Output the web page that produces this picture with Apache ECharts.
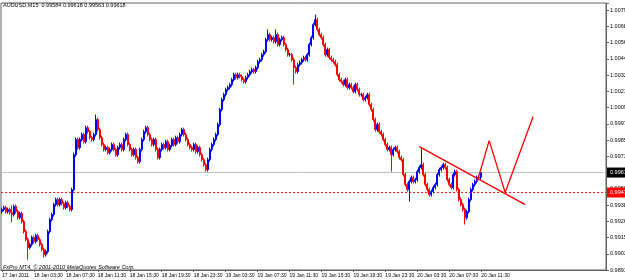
<!DOCTYPE html>
<html><head><meta charset="utf-8">
<script src="https://cdn.jsdelivr.net/npm/echarts@6/dist/echarts.min.js"></script>
<style>html,body{margin:0;padding:0;background:#fff}#c{width:625px;height:280px}</style>
</head><body><div id="c"></div>
<script>
const headerText = 'AUDUSD,M15  0.99584 0.99618 0.99563 0.99618';
const copyrightText = 'FxPro MT4, \u00a9 2001-2010 MetaQuotes Software Corp.';
const timeLabels = ['17 Jan 2011','18 Jan 03:30','18 Jan 07:30','18 Jan 11:30','18 Jan 15:30','18 Jan 19:30','18 Jan 23:30','19 Jan 03:30','19 Jan 07:30','19 Jan 11:30','19 Jan 15:30','19 Jan 19:30','19 Jan 23:30','20 Jan 03:30','20 Jan 07:30','20 Jan 11:30'];
const barsPerLabel = 16;
const slotCount = 303;
const priceTickLabels = ['0.98915','0.99030','0.99150','0.99265','0.99380','0.99500','0.99620','0.99735','0.99855','0.99975','1.00090','1.00210','1.00325','1.00445','1.00560','1.00680','1.00790'];
const yMin = 0.98915, yStep = 0.00117198, yMax = 1.00841;

const opens = [
0.99336,0.99351,0.99365,0.99336,0.99351, 0.99329,0.99315,0.99373,0.99336,0.99293,
0.99322,0.99264,0.99192,0.99135,0.99077, 0.99099,0.99149,0.99120,0.99163,0.99135,
0.99099,0.99063,0.99026,0.99048,0.99192, 0.99279,0.99315,0.99387,0.99423,0.99387,
0.99423,0.99394,0.99365,0.99401,0.99373, 0.99351,0.99495,0.99747,0.99856,0.99798,
0.99856,0.99892,0.99841,0.99942,0.99913, 0.99870,0.99856,0.99892,1.00000,0.99928,
0.99870,0.99820,0.99784,0.99798,0.99762, 0.99784,0.99820,0.99784,0.99747,0.99798,
0.99820,0.99784,0.99856,0.99892,0.99820, 0.99784,0.99747,0.99784,0.99726,0.99697,
0.99784,0.99856,0.99913,0.99942,0.99892, 0.99856,0.99820,0.99856,0.99784,0.99726,
0.99784,0.99820,0.99798,0.99841,0.99784, 0.99813,0.99856,0.99820,0.99870,0.99841,
0.99892,0.99928,0.99892,0.99856,0.99820, 0.99798,0.99784,0.99820,0.99769,0.99798,
0.99747,0.99711,0.99675,0.99639,0.99711, 0.99784,0.99820,0.99856,0.99892,0.99964,
1.00072,1.00144,1.00180,1.00216,1.00231, 1.00252,1.00288,1.00324,1.00303,1.00324,
1.00310,1.00288,1.00274,1.00303,1.00324, 1.00346,1.00360,1.00346,1.00375,1.00418,
1.00432,1.00468,1.00490,1.00577,1.00613, 1.00577,1.00591,1.00562,1.00613,1.00541,
1.00577,1.00591,1.00541,1.00505,1.00468, 1.00468,1.00432,1.00375,1.00346,1.00396,
1.00411,1.00432,1.00447,1.00432,1.00468, 1.00541,1.00591,1.00685,1.00721,1.00649,
1.00613,1.00591,1.00541,1.00468,1.00505, 1.00447,1.00432,1.00418,1.00396,1.00324,
1.00288,1.00274,1.00252,1.00288,1.00231, 1.00252,1.00231,1.00202,1.00252,1.00216,
1.00180,1.00180,1.00144,1.00158,1.00180, 1.00108,1.00072,1.00000,0.99928,0.99964,
0.99913,0.99892,0.99856,0.99820,0.99784, 0.99798,0.99747,0.99784,0.99798,0.99769,
0.99726,0.99711,0.99603,0.99531,0.99495, 0.99553,0.99582,0.99553,0.99567,0.99625,
0.99654,0.99675,0.99603,0.99531,0.99495, 0.99459,0.99481,0.99510,0.99531,0.99603,
0.99639,0.99654,0.99675,0.99654,0.99567, 0.99531,0.99510,0.99603,0.99625,0.99495,
0.99423,0.99387,0.99351,0.99293,0.99336, 0.99423,0.99495,0.99531,0.99553,0.99582,
0.99584];
const closes = [
0.99351,0.99365,0.99336,0.99351,0.99329, 0.99315,0.99373,0.99336,0.99293,0.99322,
0.99264,0.99192,0.99135,0.99077,0.99099, 0.99149,0.99120,0.99163,0.99135,0.99099,
0.99063,0.99026,0.99048,0.99192,0.99279, 0.99315,0.99387,0.99423,0.99387,0.99423,
0.99394,0.99365,0.99401,0.99373,0.99351, 0.99495,0.99747,0.99856,0.99798,0.99856,
0.99892,0.99841,0.99942,0.99913,0.99870, 0.99856,0.99892,1.00000,0.99928,0.99870,
0.99820,0.99784,0.99798,0.99762,0.99784, 0.99820,0.99784,0.99747,0.99798,0.99820,
0.99784,0.99856,0.99892,0.99820,0.99784, 0.99747,0.99784,0.99726,0.99697,0.99784,
0.99856,0.99913,0.99942,0.99892,0.99856, 0.99820,0.99856,0.99784,0.99726,0.99784,
0.99820,0.99798,0.99841,0.99784,0.99813, 0.99856,0.99820,0.99870,0.99841,0.99892,
0.99928,0.99892,0.99856,0.99820,0.99798, 0.99784,0.99820,0.99769,0.99798,0.99747,
0.99711,0.99675,0.99639,0.99711,0.99784, 0.99820,0.99856,0.99892,0.99964,1.00072,
1.00144,1.00180,1.00216,1.00231,1.00252, 1.00288,1.00324,1.00303,1.00324,1.00310,
1.00288,1.00274,1.00303,1.00324,1.00346, 1.00360,1.00346,1.00375,1.00418,1.00432,
1.00468,1.00490,1.00577,1.00613,1.00577, 1.00591,1.00562,1.00613,1.00541,1.00577,
1.00591,1.00541,1.00505,1.00468,1.00468, 1.00432,1.00375,1.00346,1.00396,1.00411,
1.00432,1.00447,1.00432,1.00468,1.00541, 1.00591,1.00685,1.00721,1.00649,1.00613,
1.00591,1.00541,1.00468,1.00505,1.00447, 1.00432,1.00418,1.00396,1.00324,1.00288,
1.00274,1.00252,1.00288,1.00231,1.00252, 1.00231,1.00202,1.00252,1.00216,1.00180,
1.00180,1.00144,1.00158,1.00180,1.00108, 1.00072,1.00000,0.99928,0.99964,0.99913,
0.99892,0.99856,0.99820,0.99784,0.99798, 0.99747,0.99784,0.99798,0.99769,0.99726,
0.99711,0.99603,0.99531,0.99495,0.99553, 0.99582,0.99553,0.99567,0.99625,0.99654,
0.99675,0.99603,0.99531,0.99495,0.99459, 0.99481,0.99510,0.99531,0.99603,0.99639,
0.99654,0.99675,0.99654,0.99567,0.99531, 0.99510,0.99603,0.99625,0.99495,0.99423,
0.99387,0.99351,0.99293,0.99336,0.99423, 0.99495,0.99531,0.99553,0.99582,0.99584,
0.99618];
const highs = [
0.99365,0.99379,0.99379,0.99365,0.99365, 0.99380,0.99387,0.99387,0.99350,0.99336,
0.99336,0.99278,0.99206,0.99149,0.99113, 0.99163,0.99163,0.99177,0.99177,0.99149,
0.99113,0.99077,0.99062,0.99206,0.99293, 0.99329,0.99401,0.99437,0.99437,0.99437,
0.99437,0.99408,0.99415,0.99415,0.99387, 0.99509,0.99761,0.99870,0.99870,0.99870,
0.99906,0.99906,0.99956,0.99956,0.99927, 0.99884,0.99906,1.00036,1.00014,0.99942,
0.99884,0.99834,0.99812,0.99812,0.99798, 0.99834,0.99834,0.99798,0.99812,0.99834,
0.99834,0.99870,0.99906,0.99906,0.99834, 0.99798,0.99798,0.99798,0.99740,0.99798,
0.99870,0.99927,0.99956,0.99956,0.99906, 0.99870,0.99870,0.99870,0.99798,0.99798,
0.99834,0.99834,0.99855,0.99855,0.99827, 0.99870,0.99870,0.99884,0.99884,0.99906,
0.99942,0.99942,0.99906,0.99870,0.99834, 0.99812,0.99834,0.99834,0.99812,0.99812,
0.99761,0.99725,0.99689,0.99725,0.99798, 0.99834,0.99870,0.99906,0.99978,1.00086,
1.00158,1.00194,1.00230,1.00245,1.00266, 1.00302,1.00338,1.00338,1.00338,1.00338,
1.00324,1.00302,1.00317,1.00338,1.00360, 1.00374,1.00374,1.00389,1.00432,1.00446,
1.00482,1.00504,1.00591,1.00649,1.00627, 1.00605,1.00605,1.00649,1.00627,1.00591,
1.00605,1.00605,1.00555,1.00519,1.00482, 1.00482,1.00446,1.00389,1.00410,1.00425,
1.00446,1.00461,1.00461,1.00482,1.00555, 1.00605,1.00699,1.00757,1.00735,1.00663,
1.00627,1.00605,1.00555,1.00519,1.00519, 1.00461,1.00446,1.00432,1.00410,1.00338,
1.00302,1.00288,1.00302,1.00302,1.00266, 1.00266,1.00245,1.00266,1.00266,1.00230,
1.00194,1.00194,1.00172,1.00194,1.00194, 1.00122,1.00086,1.00014,0.99978,0.99978,
0.99927,0.99906,0.99870,0.99834,0.99812, 0.99812,0.99798,0.99812,0.99812,0.99783,
0.99740,0.99725,0.99617,0.99545,0.99567, 0.99596,0.99596,0.99581,0.99639,0.99668,
0.99798,0.99689,0.99617,0.99545,0.99509, 0.99495,0.99524,0.99545,0.99617,0.99653,
0.99668,0.99689,0.99689,0.99668,0.99581, 0.99545,0.99617,0.99639,0.99639,0.99509,
0.99437,0.99401,0.99365,0.99350,0.99437, 0.99509,0.99545,0.99567,0.99596,0.99598,
0.99618];
const lows = [
0.99322,0.99337,0.99322,0.99322,0.99315, 0.99260,0.99301,0.99322,0.99279,0.99279,
0.99250,0.99178,0.99121,0.98990,0.99063, 0.99085,0.99106,0.99106,0.99121,0.99085,
0.99049,0.99005,0.99012,0.99034,0.99178, 0.99265,0.99301,0.99373,0.99373,0.99373,
0.99380,0.99351,0.99351,0.99359,0.99337, 0.99337,0.99481,0.99733,0.99784,0.99784,
0.99842,0.99827,0.99827,0.99899,0.99856, 0.99842,0.99842,0.99878,0.99914,0.99856,
0.99806,0.99770,0.99770,0.99748,0.99748, 0.99770,0.99770,0.99733,0.99733,0.99784,
0.99770,0.99770,0.99842,0.99806,0.99770, 0.99733,0.99733,0.99712,0.99683,0.99683,
0.99770,0.99842,0.99899,0.99878,0.99842, 0.99806,0.99806,0.99770,0.99712,0.99712,
0.99770,0.99784,0.99784,0.99770,0.99770, 0.99799,0.99806,0.99806,0.99827,0.99827,
0.99878,0.99878,0.99842,0.99806,0.99784, 0.99770,0.99770,0.99755,0.99755,0.99733,
0.99697,0.99661,0.99625,0.99625,0.99697, 0.99770,0.99806,0.99842,0.99878,0.99950,
1.00058,1.00130,1.00166,1.00202,1.00217, 1.00238,1.00274,1.00289,1.00289,1.00296,
1.00274,1.00260,1.00260,1.00289,1.00310, 1.00332,1.00332,1.00332,1.00361,1.00404,
1.00418,1.00454,1.00476,1.00563,1.00563, 1.00563,1.00548,1.00548,1.00527,1.00527,
1.00563,1.00527,1.00491,1.00454,1.00454, 1.00418,1.00252,1.00332,1.00332,1.00382,
1.00397,1.00418,1.00418,1.00418,1.00454, 1.00527,1.00577,1.00671,1.00635,1.00599,
1.00577,1.00527,1.00454,1.00454,1.00433, 1.00418,1.00404,1.00382,1.00310,1.00274,
1.00260,1.00238,1.00238,1.00217,1.00217, 1.00217,1.00188,1.00188,1.00202,1.00166,
1.00166,1.00130,1.00130,1.00144,1.00094, 1.00058,0.99986,0.99914,0.99914,0.99899,
0.99878,0.99842,0.99806,0.99770,0.99770, 0.99625,0.99733,0.99770,0.99755,0.99712,
0.99697,0.99589,0.99517,0.99481,0.99409, 0.99539,0.99539,0.99539,0.99553,0.99611,
0.99640,0.99589,0.99517,0.99481,0.99445, 0.99445,0.99467,0.99496,0.99517,0.99589,
0.99625,0.99640,0.99640,0.99553,0.99517, 0.99496,0.99496,0.99589,0.99481,0.99409,
0.99373,0.99337,0.99243,0.99279,0.99322, 0.99409,0.99481,0.99517,0.99539,0.99568,
0.99563];

const bidPrice = 0.99618;
const alertPrice = 0.99474;
const trendX = [209, 262];
const trendY = [0.99805, 0.99387];
const zigX = [238, 244, 252, 266];
const zigY = [0.99553, 0.99848, 0.99474, 1.00022];

const FONT = 'Liberation Sans';
const categories = Array.from({length: slotCount}, (_, i) => String(i));
const candleData = opens.map((o, i) => [o, closes[i], lows[i], highs[i]]);
const showTime = (idx) => idx % barsPerLabel === 0 && idx / barsPerLabel < timeLabels.length;

const chart = echarts.init(document.getElementById('c'), null, {renderer: 'canvas'});
chart.setOption({
  animation: false,
  backgroundColor: '#ffffff',
  title: {text: headerText, left: 3, top: 2, padding: 0,
    textStyle: {fontSize: 5.5, fontWeight: 'normal', color: '#000', fontFamily: FONT}},
  graphic: [{type: 'text', left: 3, top: 264,
    style: {text: copyrightText, fontSize: 5.5, fill: '#000', fontFamily: FONT, fontStyle: 'italic'}}],
  grid: {left: 1, right: 19, top: 3, bottom: 10, show: true, borderColor: '#606060', borderWidth: 1,
    backgroundColor: '#fff', containLabel: false, outerBoundsMode: 'none'},
  xAxis: {type: 'category', data: categories, boundaryGap: true,
    axisLine: {show: true, lineStyle: {color: '#606060'}},
    axisTick: {show: true, interval: (i) => showTime(i), alignWithLabel: true, length: 2, lineStyle: {color: '#606060'}},
    axisLabel: {show: true, interval: (i) => showTime(i), formatter: (v, i) => timeLabels[i / barsPerLabel] || '',
      align: 'left', margin: 3, fontSize: 5, color: '#000', fontFamily: FONT},
    splitLine: {show: false}},
  yAxis: {type: 'value', position: 'right', min: yMin, max: yMax, interval: yStep, scale: true,
    axisLine: {show: true, lineStyle: {color: '#606060'}},
    axisTick: {show: true, length: 3, lineStyle: {color: '#606060'}},
    axisLabel: {show: true, margin: 4, fontSize: 5.5, color: '#000', fontFamily: FONT,
      formatter: (v) => { const k = (v - yMin) / yStep; const r = Math.round(k);
        return (Math.abs(k - r) < 0.02 && r >= 0 && r < priceTickLabels.length) ? priceTickLabels[r] : ''; }},
    splitLine: {show: false}},
  series: [
    {type: 'candlestick', data: candleData, barWidth: 1.5,
      itemStyle: {color: '#0000ff', color0: '#ff0000', borderColor: '#0000ff', borderColor0: '#ff0000', borderWidth: 1},
      markLine: {silent: true, symbol: 'none', animation: false, precision: 5, z: 1,
        data: [
          {yAxis: bidPrice, lineStyle: {color: '#c0c0c0', type: 'solid', width: 1},
            label: {show: true, position: 'end', distance: 1, formatter: (p) => Number(p.value).toFixed(5),
              backgroundColor: '#000', color: '#fff', fontSize: 5.5, padding: [2, 3], fontFamily: FONT}},
          {yAxis: alertPrice, lineStyle: {color: '#ff2020', type: [2, 2], width: 1},
            label: {show: true, position: 'end', distance: 1, formatter: (p) => Number(p.value).toFixed(5),
              backgroundColor: '#ff0000', color: '#fff', fontSize: 5.5, padding: [2, 3], fontFamily: FONT}}
        ]}},
    {type: 'line', data: trendX.map((x, i) => [x, trendY[i]]), symbol: 'none',
      lineStyle: {color: '#ff0000', width: 1.3}, z: 5},
    {type: 'line', data: zigX.map((x, i) => [x, zigY[i]]), symbol: 'none',
      lineStyle: {color: '#ff0000', width: 1.3}, z: 5}
  ]
});
</script></body></html>
